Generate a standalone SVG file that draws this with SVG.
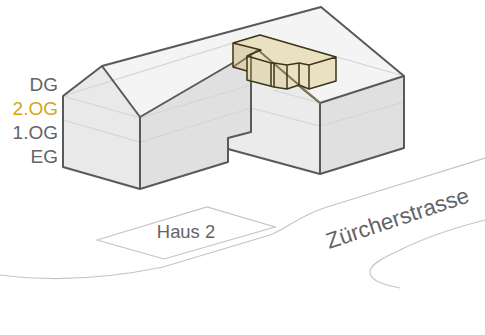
<svg xmlns="http://www.w3.org/2000/svg" width="485" height="335" viewBox="0 0 485 335">
<style>
.t{font-family:"Liberation Sans",Arial,sans-serif;font-size:19px;fill:#636466}
.e{fill:none;stroke:#58595b;stroke-width:2;stroke-linejoin:round;stroke-linecap:round}
.f{fill:none;stroke:#d4d4d4;stroke-width:1.2}
.r{fill:none;stroke:#c4c4c4;stroke-width:1.2}
.y{fill:#eae1c3;stroke:none}
.d{fill:#ded4b4}
.m{fill:#e4dbbc}
.k{fill:none;stroke:#3e3418;stroke-width:1.5;stroke-linejoin:round}
</style>
<rect width="485" height="335" fill="#fff"/>
<g id="road">
<path class="r" d="M0 275C45 281 100 280 163 267L270 235C283 231 300 215 327 207L485 158"/>
<path class="r" d="M485 220C450 229 420 240 400 250C385 257 370 264 370 272C370 281 385 285 400 288"/>
</g>
<g id="haus2">
<polygon points="97,240 207,207 275,227 164,259" fill="#fff" stroke="#c4c4c4" stroke-width="1.2"/>
<text class="t" x="186" y="238" text-anchor="middle" style="font-size:18.400px">Haus 2</text>
</g>
<g id="building">
<polygon points="102,66 321,7 404,76 320,103 255,50 140,117" fill="#f4f4f4"/>
<polygon points="63,96 102,66 140,117 140,189 63,167" fill="#e9e9e9"/>
<polygon points="140,117 251,53 251,132 228,138 228,162 140,189" fill="#e0e0e0"/>
<polygon points="251,53 255,50 320,103 320,174 228,149 228,138 251,132" fill="#ebebeb"/>
<polygon points="320,103 404,76 404,148 320,174" fill="#e0e0e0"/>
<g id="floors">
<path class="f" d="M63 96L140 118L251 85M63 120L140 142L251 108L320 126L404 102M273 90L320 103M63 96L259 35L404 76"/>
</g>
<path class="e" d="M63 96L102 66L321 7L404 76V148L320 174V103L404 76M102 66L140 117V189L63 167V96M140 117L255 50L320 103M251 53V132L228 138V162L140 189M228 149L320 174"/>
</g>
<g id="og2">
<polygon class="y" points="233,43 260,35 336,57 336,81 309,89 299,85 287,89 274,87 271,86 247,80 247,71 233,67"/>
<polygon class="d" points="233,43 261,50 247,56 247,71 233,67"/>
<polygon class="m" points="247,56 271,63 271,86 247,80"/>
<polygon class="m" points="274,63 287,65 287,89 274,87"/>
<path d="M233 67L258 50L320 103M251 53V80" fill="none" stroke="#7f7857" stroke-width="2"/>
<path class="k" d="M233 43L260 35L336 57V81L309 89L299 85L287 89L274 87L247 80V56L261 50L233 43V67L247 71M247 56L271 63V86M271 63L274 63L287 65L299 63L309 65L336 57M274 63V87M287 65V89M299 63V85M309 65V89"/>
</g>
<g id="labels">
<text class="t" x="58" y="91" text-anchor="end">DG</text>
<text class="t" x="58" y="115" text-anchor="end" style="fill:#d4a514">2.OG</text>
<text class="t" x="58" y="139" text-anchor="end">1.OG</text>
<text class="t" x="58" y="163" text-anchor="end">EG</text>
<text class="t" transform="translate(329 249) rotate(-18.400)" style="font-size:22.400px">Zürcherstrasse</text>
</g>
</svg>
